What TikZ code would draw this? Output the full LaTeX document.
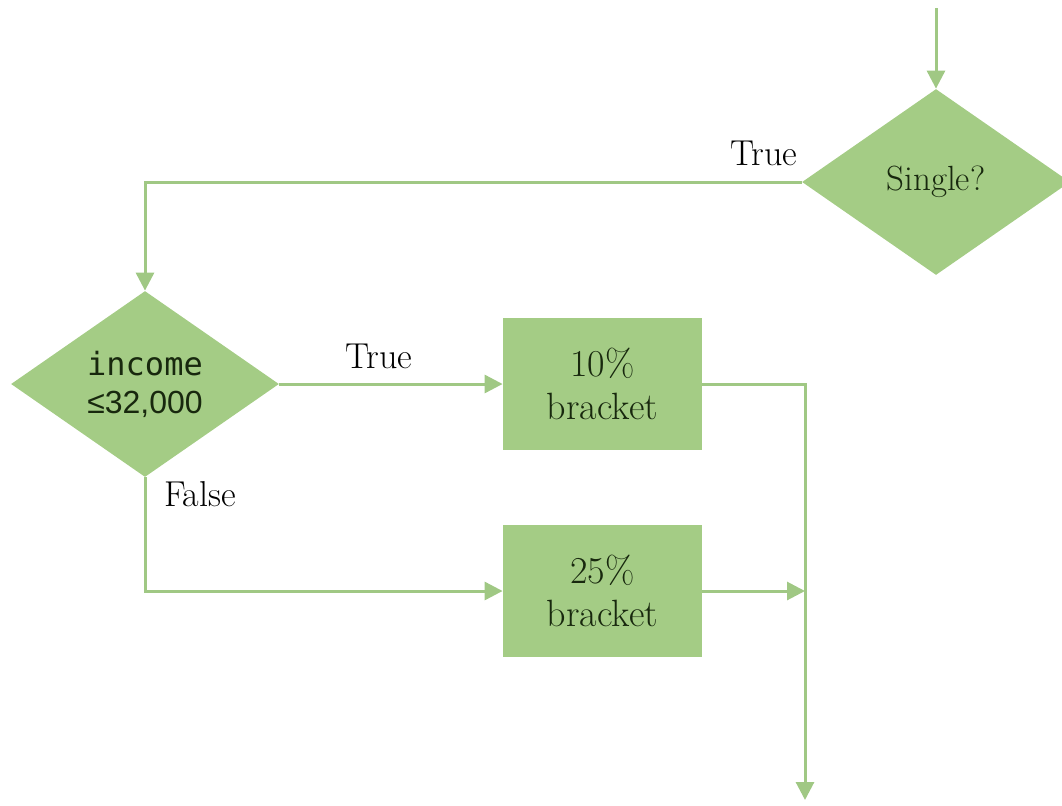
\documentclass[tikz,border=0pt]{standalone}
\usepackage{fontspec}
\setmonofont{DejaVu Sans Mono}
\newfontfamily\symfont{Liberation Sans}
\usetikzlibrary{shapes.geometric,arrows.meta,positioning}
\definecolor{flowgreen}{RGB}{164,204,133}
\definecolor{linegreen}{RGB}{160,200,132}
\definecolor{inkgreen}{RGB}{24,40,14}
\tikzset{
    decision/.style={shape=diamond,fill=flowgreen,inner sep=0pt,minimum width=134pt,minimum height=93pt,text=inkgreen,align=center,font=\fontsize{17.5}{19}\selectfont},
    bracket box/.style={shape=rectangle,fill=flowgreen,minimum width=99.5pt,minimum height=66pt,text=inkgreen,align=center,font=\fontsize{19}{21.5}\selectfont},
    line/.style={draw=linegreen,line width=1.5pt},
    arrow/.style={line,-{Triangle[length=9pt,width=9pt]}},
    branch/.style={font=\fontsize{18}{20}\selectfont}
}

\begin{document}
\begin{tikzpicture}[x=0.5pt,y=-0.5pt]
    \useasboundingbox (0,0) rectangle (1062,805);
    % decisions and brackets
    \node[decision] (single) at (936,182) {Single?};
    \node[decision] (income) at (145,384) {{\fontsize{16}{19}\selectfont\texttt{income}}\\{\fontsize{16}{19}\selectfont\symfont ≤32,000}};
    \node[bracket box] (low) at (602.5,384) {10\%\\bracket};
    \node[bracket box] (high) at (602.5,591) {25\%\\bracket};
    \coordinate (start) at (936,8);
    \coordinate (join) at (805,591);
    \coordinate (exit) at (805,800);

    \draw[arrow] (start) -- (single);
    \draw[arrow] (single.west) -| (income.north);
    \draw[arrow] (income.east) -- (low.west);
    \draw[arrow] (income.south) |- (high.west);
    \draw[arrow] (low.east) -| (exit);
    \draw[arrow] (high.east) -- (join);

    % branch labels
    \node[branch] (singletrue) at (764,153) {True};
    \node[branch] (lowtrue) at (379,356) {True};
    \node[branch] (lowfalse) at (200,494) {False};
\end{tikzpicture}
\end{document}
